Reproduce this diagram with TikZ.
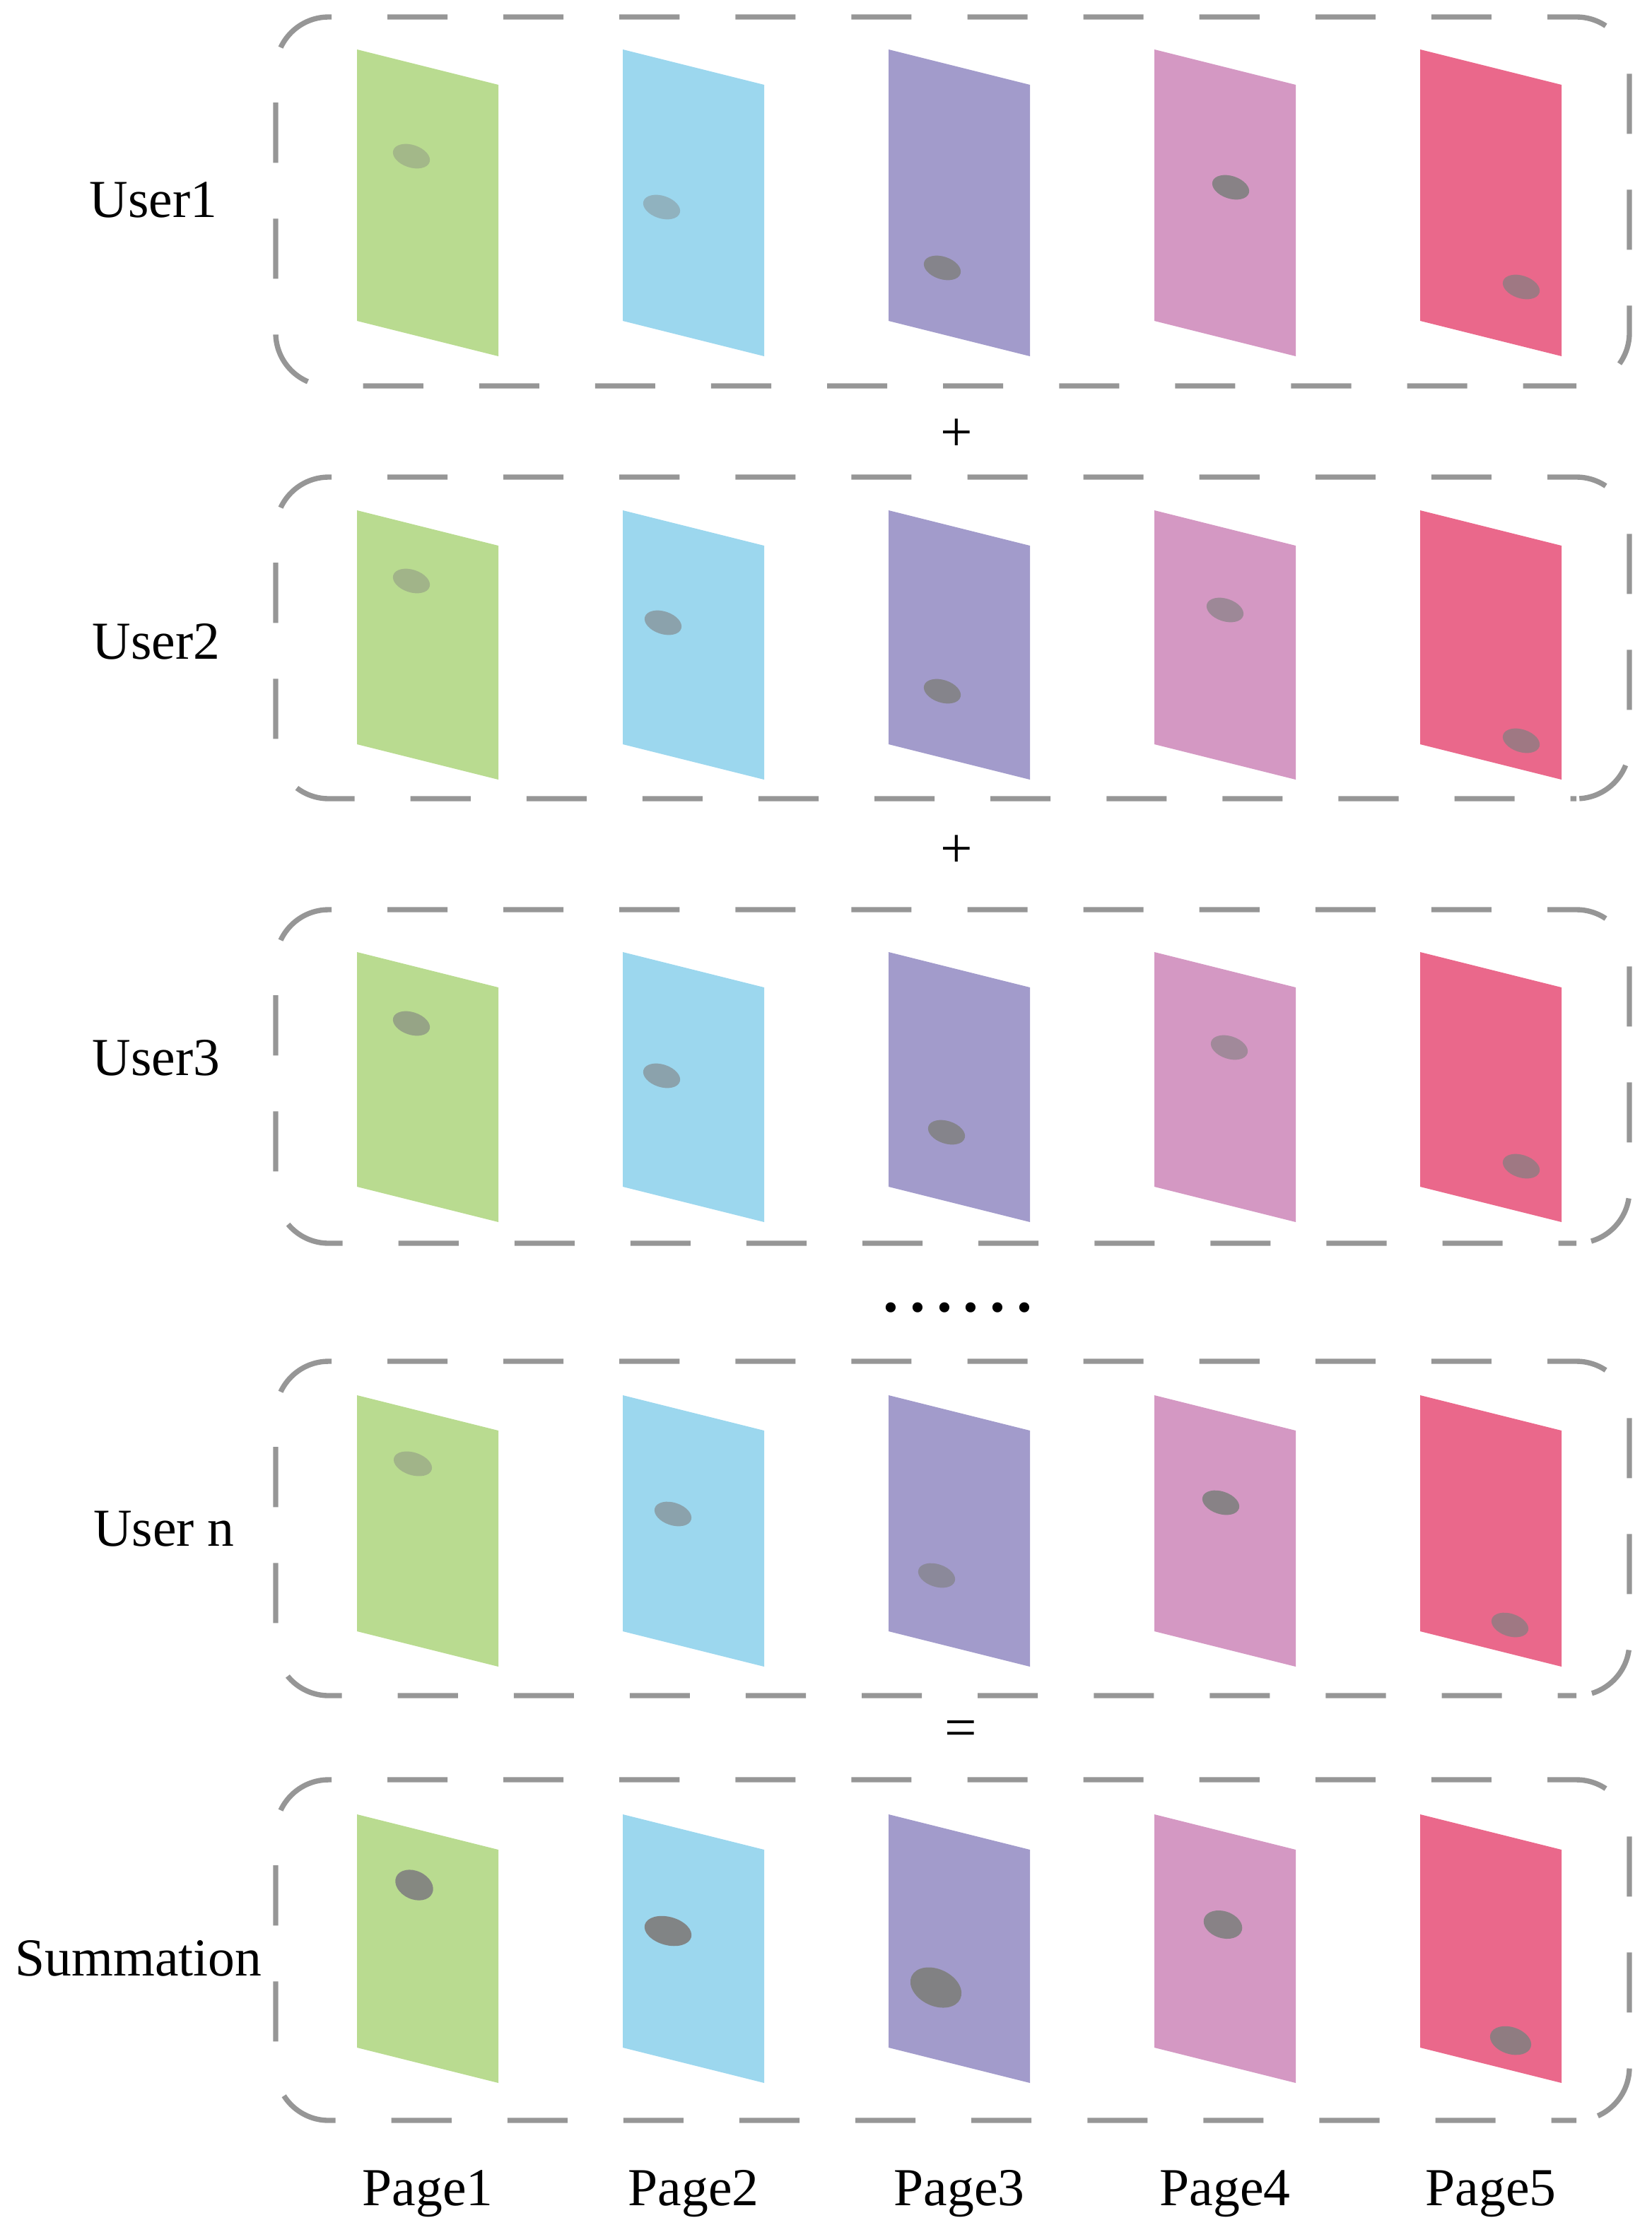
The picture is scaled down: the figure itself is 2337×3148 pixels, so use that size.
\documentclass[tikz,border=0pt]{standalone}
\usepackage{fontspec}
\setmainfont{Liberation Serif}
\definecolor{pgreen}{HTML}{B9DB90}
\definecolor{pblue}{HTML}{9CD7EE}
\definecolor{ppurple}{HTML}{A29BCB}
\definecolor{ppink}{HTML}{D498C3}
\definecolor{pred}{HTML}{EA688B}
\definecolor{dashgray}{HTML}{969696}
\begin{document}
\begin{tikzpicture}[x=0.01cm,y=-0.01cm,
  userbox/.style={draw=dashgray, line width=2.1pt, rounded corners=0.75cm,
     dash pattern=on 0.85cm off 0.79cm},
  lbl/.style={font=\fontsize{21.5}{26}\selectfont, inner sep=0pt, anchor=base},
  sym/.style={font=\fontsize{23}{26}\selectfont, inner sep=0pt},
]
\useasboundingbox (0,0) rectangle (2337,3148);

% dashed user boxes (two open halves meeting at the lower right corner)
\foreach \t/\b in {24/546, 675/1130, 1287/1759, 1926/2399, 2518/3000}{
  \draw[userbox, dash phase=0.81cm] (465,\t) -- (2305,\t) -- (2305,\b) -- (2230,\b);
  \draw[userbox, dash phase=0cm] (465,\t) -- (390,\t) -- (390,\b) -- (2230,\b);
}

% pages: rows (top, height)
\foreach \T/\H [count=\r] in {70/384, 722/331, 1347/332, 1974/334, 2567/330}{
  \foreach \x/\c [count=\p] in {505/pgreen, 881/pblue, 1257/ppurple, 1633/ppink, 2009/pred}{
    \fill[\c] (\x,\T) coordinate (pg\r-\p) -- ++(200,50) -- ++(0,\H) -- ++(-200,-50) -- cycle;
  }
}

% dots: x, y, x radius, y radius, rotation, opacity
\foreach \cx/\cy/\rx/\ry/\rot/\op in {
  582/221/27/16/-18/0.38, 936/293/27/16/-18/0.42, 1333/379/27/16/-18/0.85, 1741/265/27/16/-18/0.9, 2152/406/27/16/-18/0.7,
  582/822/27/16/-18/0.42, 938/881/27/16/-18/0.6, 1333/978/27/16/-18/0.85, 1733/863/27/16/-18/0.65, 2152/1048/27/16/-18/0.7,
  582/1448/27/16/-18/0.6, 936/1522/27/16/-18/0.6, 1339/1602/27/16/-18/0.85, 1739/1482/27/16/-18/0.6, 2152/1650/27/16/-18/0.7,
  584/2071/28/16/-18/0.42, 952/2142/27/16/-18/0.6, 1325/2229/27/16/-18/0.65, 1727/2126/27/16/-18/0.9, 2136/2299/27/16/-18/0.7,
  586/2667/28/20/-25/0.9, 945/2732/34/20/-15/0.95, 1324/2812/38/26/-25/0.95, 1730/2723/28/19/-18/0.9, 2137/2887/30/19/-18/0.85}{
  \fill[black!50, fill opacity=\op, shift={(\cx,\cy)}, rotate=\rot] (0,0) ellipse [x radius=\rx, y radius=\ry];
}

% row labels
\node[lbl] (u1) at (217,307) {User1};
\node[lbl] (u2) at (221,932) {User2};
\node[lbl] (u3) at (221,1521) {User3};
\node[lbl] (un) at (232,2187) {User n};
\node[lbl] (sum) at (196,2795) {Summation};

% operators
\node[sym] (plus1) at (1353,616) {+};
\node[sym] (plus2) at (1353,1205) {+};
\node[font=\fontsize{34}{36}\selectfont, inner sep=0pt, anchor=base] (dots) at (1355,1855)
  {.\kern2.3pt.\kern2.3pt.\kern2.3pt.\kern2.3pt.\kern2.3pt.};
\node[sym] (eq) at (1359,2453) {=};

% page labels
\node[lbl] (l1) at (605,3120) {Page1};
\node[lbl] (l2) at (981,3120) {Page2};
\node[lbl] (l3) at (1357,3120) {Page3};
\node[lbl] (l4) at (1733,3120) {Page4};
\node[lbl] (l5) at (2109,3120) {Page5};
\end{tikzpicture}
\end{document}
